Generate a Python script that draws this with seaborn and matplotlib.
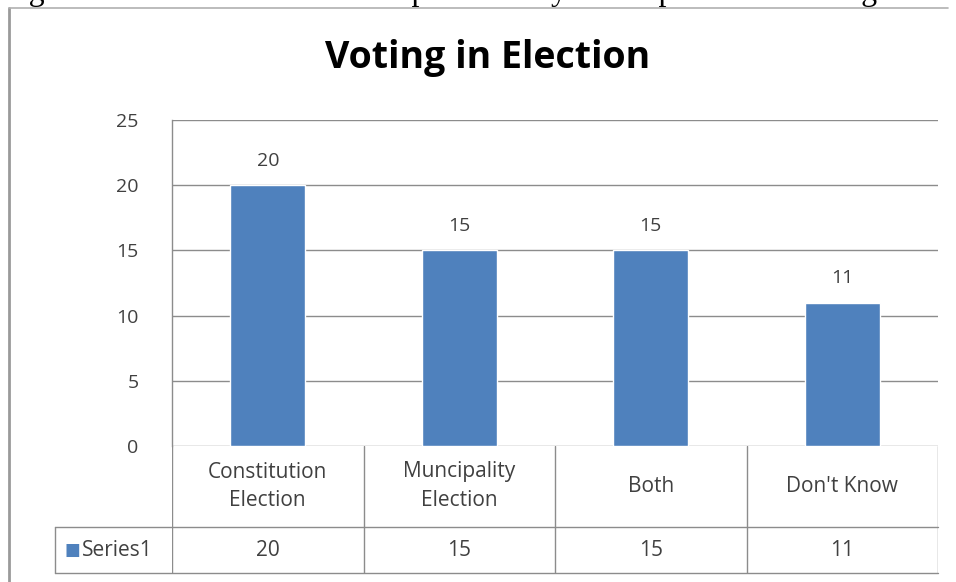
import matplotlib
matplotlib.use("Agg")
import matplotlib.pyplot as plt
import seaborn as sns
import pandas as pd

categories = ["Constitution\nElection", "Muncipality\nElection", "Both", "Don't Know"]
values = [20, 15, 15, 11]
series_name = "Series1"
y_ticks = [0, 5, 10, 15, 20, 25]
title = "Voting in Election"
caption = "Figure 3.15: Distribution of Respondents by Participation in Casting Vote"

BLUE = "#4F81BD"
GRID = "#8C8C8C"
TEXT = "#404040"
FONT = "Open Sans"
FS = 14
FS_TABLE = 15

sns.set_theme(style="white")
plt.rcParams["font.family"] = [FONT, "DejaVu Sans"]

W, H = 956, 582
fig = plt.figure(figsize=(W / 100, H / 100), dpi=100)
fig.patch.set_facecolor("white")

def fx(px):
    return px / W

def fy(py):
    return 1 - py / H

# plot area
left, right, top, bottom = 172, 938, 120, 446
ax = fig.add_axes([fx(left), fy(bottom), fx(right - left), fy(top) - fy(bottom)])
df = pd.DataFrame({"category": categories, "value": values})
sns.barplot(data=df, x="category", y="value", color=BLUE, width=0.39,
            saturation=1, ax=ax, zorder=3)
ax.set_xlim(-0.5, len(categories) - 0.5)
ax.set_ylim(0, 25)
ax.set_yticks(y_ticks)
ax.set_yticklabels([str(t) for t in y_ticks], fontsize=FS, color=TEXT)
ax.tick_params(axis="y", length=0, pad=24)
ax.set_xticks([])
ax.set_xlabel("")
ax.set_ylabel("")
for t in y_ticks:
    ax.axhline(t, color=GRID, lw=1.0, zorder=1)
for s in ["top", "right", "bottom"]:
    ax.spines[s].set_visible(False)
ax.spines["left"].set_color(GRID)
ax.spines["left"].set_linewidth(1.0)

for i, v in enumerate(values):
    ax.text(i, v + 1.2, str(v), ha="center", va="bottom", fontsize=FS, color=TEXT)

# data table beneath the plot
tbl_top, row_split, tbl_bottom, tbl_left = 446, 527, 573, 55
tax = fig.add_axes([fx(left), fy(tbl_bottom), fx(right - left), fy(tbl_top) - fy(tbl_bottom)])
tax.set_xlim(-0.5, len(categories) - 0.5)
tax.set_ylim(tbl_bottom, tbl_top)
tax.axis("off")
for k in range(len(categories) + 1):
    tax.plot([k - 0.5, k - 0.5], [tbl_top, tbl_bottom], color=GRID, lw=1.0)
x_left = -0.5 - (left - tbl_left) / ((right - left) / len(categories))
tax.plot([x_left, len(categories) - 0.5], [row_split, row_split], color=GRID, lw=1.0, clip_on=False)
tax.plot([x_left, len(categories) - 0.5], [tbl_bottom, tbl_bottom], color=GRID, lw=1.0, clip_on=False)
tax.plot([x_left, x_left], [row_split, tbl_bottom], color=GRID, lw=1.0, clip_on=False)
for i, (c, v) in enumerate(zip(categories, values)):
    tax.text(i, (tbl_top + row_split) / 2, c, ha="center", va="center",
             fontsize=FS_TABLE, color=TEXT, linespacing=1.5)
    tax.text(i, (row_split + tbl_bottom) / 2 + 1, str(v), ha="center", va="center",
             fontsize=FS_TABLE, color=TEXT)
tax.text(x_left + 0.05, (row_split + tbl_bottom) / 2, "\u25A0", ha="left", va="center",
         fontsize=12, color=BLUE, family=["DejaVu Sans"], clip_on=False)
tax.text(x_left + 0.14, (row_split + tbl_bottom) / 2 + 1, series_name, ha="left", va="center",
         fontsize=FS_TABLE, color=TEXT, clip_on=False)

# title
fig.text(fx(488), fy(58), title, ha="center", va="center", fontsize=27,
         fontweight="bold", color="black")

# outer chart frame
fig.add_artist(plt.Line2D([fx(9), fx(9)], [fy(8), 0], transform=fig.transFigure,
                          color="#9A9A9A", lw=2.0))
fig.add_artist(plt.Line2D([fx(9), fx(948)], [fy(8), fy(8)], transform=fig.transFigure,
                          color="#B0B0B0", lw=1.2))

# caption line above the chart, cut by the top edge
fig.text(fx(2), fy(0.3), caption, ha="left", va="baseline", fontsize=23,
         family=["Liberation Serif"], color="black")

fig.savefig("out.png", dpi=100, facecolor="white")
